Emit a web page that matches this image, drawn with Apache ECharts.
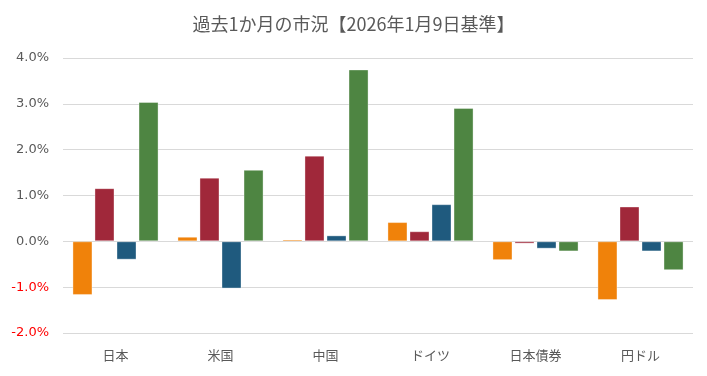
<!DOCTYPE html>
<html>
<head>
<meta charset="utf-8">
<script src="https://cdn.jsdelivr.net/npm/echarts@6/dist/echarts.min.js"></script>
<style>
  html, body { margin: 0; padding: 0; background: #fff; }
  #chart { width: 707px; height: 376px; }
</style>
</head>
<body>
<div id="chart"></div>
<script>
// 区分
var categories = ['日本', '米国', '中国', 'ドイツ', '日本債券', '円ドル'];
// 4系列（%）
var series1 = [-1.17, 0.10, 0.04, 0.42, -0.41, -1.28];
var series2 = [1.16, 1.39, 1.87, 0.22, -0.05, 0.76];
var series3 = [-0.40, -1.03, 0.13, 0.81, -0.16, -0.22];
var series4 = [3.04, 1.56, 3.75, 2.91, -0.22, -0.63];
var colors = ['#F0820A', '#A0283A', '#1F5A7E', '#4E8542'];

var jpFont = '"Noto Sans CJK JP", sans-serif';

function barSeries(data, color) {
	return {
		type: 'bar',
		data: data,
		barGap: '10%',
		barCategoryGap: '18%',
		itemStyle: {
			color: color,
			borderColor: 'rgba(255,255,255,0.35)',
			borderWidth: 1
		}
	};
}

var myChart = echarts.init(document.getElementById('chart'));
var option = {
	animation: false,
	title: {
		text: '過去1か月の市況【2026年1月9日基準】',
		left: 'center',
		top: 10,
		textStyle: {
			fontFamily: jpFont,
			fontSize: 18,
			fontWeight: 'normal',
			color: '#595959'
		}
	},
	grid: { left: 63, right: 14, top: 58, bottom: 43 },
	xAxis: {
		type: 'category',
		data: categories,
		axisLine: { show: false },
		axisTick: { show: false },
		axisLabel: {
			margin: 16,
			fontFamily: jpFont,
			fontSize: 13,
			color: '#595959'
		}
	},
	yAxis: {
		type: 'value',
		min: -2,
		max: 4,
		interval: 1,
		axisLine: { show: false },
		axisTick: { show: false },
		splitLine: { lineStyle: { color: '#d9d9d9', width: 1 } },
		axisLabel: {
			margin: 14,
			fontFamily: 'Verdana, "DejaVu Sans", sans-serif',
			fontSize: 13,
			formatter: function (v) { return v.toFixed(1) + '%'; },
			color: function (v) { return v < 0 ? '#FF0000' : '#595959'; }
		}
	},
	series: [
		barSeries(series1, colors[0]),
		barSeries(series2, colors[1]),
		barSeries(series3, colors[2]),
		barSeries(series4, colors[3])
	]
};
myChart.setOption(option);
</script>
</body>
</html>
